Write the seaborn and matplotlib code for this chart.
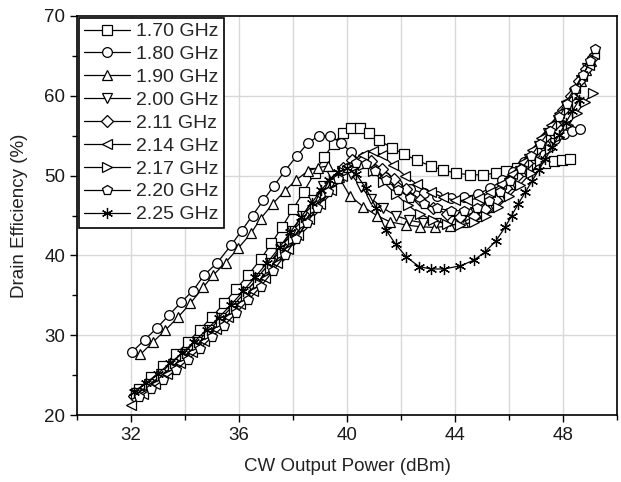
import matplotlib
matplotlib.use("Agg")
import matplotlib.pyplot as plt
import seaborn as sns
import pandas as pd
from matplotlib.ticker import MultipleLocator

sns.set_theme(style="white")
plt.rcParams['font.family'] = ['Liberation Sans', 'DejaVu Sans']

labels = ["1.70 GHz", "1.80 GHz", "1.90 GHz", "2.00 GHz", "2.11 GHz",
          "2.14 GHz", "2.17 GHz", "2.20 GHz", "2.25 GHz"]

x_170 = [32.3, 32.75, 33.2, 33.65, 34.1, 34.55, 35.0, 35.45, 35.9, 36.35, 36.8, 37.2, 37.6, 38.0, 38.4,
         38.8, 39.15, 39.5, 39.85, 40.15, 40.48, 40.8, 41.2, 41.65, 42.1, 42.6, 43.1, 43.55, 44.05, 44.55,
         45.05, 45.5, 45.9, 46.3, 46.7, 47.05, 47.35, 47.65, 47.95, 48.25]
y_170 = [23.3, 24.7, 26.1, 27.6, 29.1, 30.7, 32.3, 34.0, 35.8, 37.6, 39.5, 41.5, 43.6, 45.8, 48.0,
         50.3, 52.3, 54.0, 55.3, 56.0, 56.0, 55.4, 54.4, 53.5, 52.7, 51.9, 51.2, 50.7, 50.3, 50.1,
         50.1, 50.3, 50.6, 50.9, 51.2, 51.4, 51.6, 51.8, 52.0, 52.1]

x_180 = [32.04, 32.5, 32.96, 33.4, 33.85, 34.3, 34.7, 35.2, 35.7, 36.1, 36.5, 36.9, 37.3, 37.7, 38.15,
         38.56, 38.96, 39.37, 39.78, 40.15, 40.55, 40.95, 41.4, 41.85, 42.35, 42.85, 43.35, 43.85, 44.35,
         44.85, 45.3, 45.75, 46.15, 46.55, 46.95, 47.35, 47.7, 48.05, 48.35, 48.63]
y_180 = [27.9, 29.4, 30.9, 32.5, 34.1, 35.6, 37.5, 39.1, 41.25, 43.1, 45.0, 46.9, 48.75, 50.6, 52.5,
         54.1, 55.0, 55.0, 54.1, 52.9, 51.7, 50.7, 49.8, 49.0, 48.3, 47.8, 47.4, 47.2, 47.3,
         47.7, 48.4, 49.4, 50.5, 51.7, 52.8, 53.8, 54.6, 55.2, 55.6, 55.8]

x_190 = [32.35, 32.8, 33.26, 33.74, 34.2, 34.67, 35.04, 35.5, 35.97, 36.44, 36.8, 37.26, 37.7, 38.1,
         38.56, 38.93, 39.3, 39.7, 40.1, 40.6, 41.1, 41.6, 42.2, 42.7, 43.25, 43.8, 44.3, 44.8, 45.25,
         45.65, 46.05, 46.45, 46.8, 47.15, 47.5, 47.8, 48.1, 48.4, 48.65, 48.85, 49.05]
y_190 = [27.6, 29.1, 30.6, 32.25, 34.0, 36.0, 37.5, 39.1, 40.9, 42.75, 44.6, 46.5, 48.1, 49.4,
         50.6, 51.0, 51.2, 49.8, 47.5, 46.1, 45.0, 44.2, 43.8, 43.6, 43.5, 43.7, 44.2, 45.0, 46.1,
         47.5, 49.0, 50.6, 52.2, 53.8, 55.4, 57.0, 58.6, 60.2, 61.8, 63.2, 64.4]

x_200 = [32.2, 32.65, 33.1, 33.55, 34.0, 34.45, 34.9, 35.35, 35.8, 36.25, 36.7, 37.15, 37.55, 37.95,
         38.35, 38.75, 39.1, 39.45, 39.8, 40.15, 40.5, 40.9, 41.35, 41.8, 42.3, 42.8, 43.3, 43.8, 44.3,
         44.75, 45.2, 45.6, 46.0, 46.4, 46.75, 47.1, 47.45, 47.8, 48.1, 48.4, 48.65, 48.9]
y_200 = [22.8, 23.9, 25.1, 26.4, 27.7, 29.1, 30.6, 32.1, 33.7, 35.4, 37.2, 39.1, 41.0, 43.0,
         45.0, 47.0, 48.7, 50.0, 50.6, 50.2, 48.6, 47.1, 45.9, 45.0, 44.4, 44.1, 44.1, 44.3, 44.8,
         45.5, 46.5, 47.7, 49.1, 50.6, 52.1, 53.7, 55.3, 57.0, 58.7, 60.4, 62.0, 63.5]

x_211 = [32.1, 32.55, 33.0, 33.45, 33.9, 34.35, 34.8, 35.25, 35.7, 36.15, 36.6, 37.05, 37.5, 37.9,
         38.3, 38.7, 39.1, 39.5, 39.85, 40.2, 40.55, 40.9, 41.3, 41.75, 42.2, 42.7, 43.2, 43.7, 44.2,
         44.7, 45.1, 45.5, 45.9, 46.3, 46.65, 47.0, 47.35, 47.7, 48.0, 48.3, 48.6, 48.85, 49.1]
y_211 = [22.4, 23.5, 24.6, 25.8, 27.1, 28.4, 29.8, 31.3, 32.8, 34.4, 36.1, 37.9, 39.8, 41.7,
         43.6, 45.6, 47.6, 49.5, 50.9, 51.9, 52.2, 51.8, 50.8, 49.6, 48.3, 47.0, 46.0, 45.2, 44.8,
         45.0, 45.8, 47.0, 48.4, 50.0, 51.6, 53.2, 54.8, 56.5, 58.2, 60.0, 61.8, 63.4, 64.8]

x_214 = [32.0, 32.45, 32.9, 33.35, 33.8, 34.25, 34.7, 35.15, 35.6, 36.05, 36.5, 36.95, 37.4, 37.8,
         38.2, 38.6, 39.0, 39.4, 39.8, 40.2, 40.6, 40.95, 41.3, 41.7, 42.15, 42.6, 43.1, 43.55, 44.0,
         44.45, 44.9, 45.3, 45.7, 46.1, 46.5, 46.85, 47.2, 47.55, 47.85, 48.15, 48.45, 48.7, 48.95, 49.15]
y_214 = [21.2, 22.6, 23.9, 25.2, 26.5, 27.9, 29.3, 30.8, 32.3, 33.9, 35.5, 37.2, 39.0, 40.8,
         42.6, 44.5, 46.4, 48.2, 49.9, 51.4, 52.6, 53.1, 52.6, 51.3, 50.0, 48.9, 47.9, 47.3, 46.9,
         46.9, 47.2, 47.9, 48.9, 50.2, 51.7, 53.2, 54.7, 56.3, 57.8, 59.4, 61.0, 62.5, 63.9, 65.2]

x_217 = [32.2, 32.65, 33.1, 33.55, 34.0, 34.45, 34.9, 35.35, 35.8, 36.25, 36.7, 37.15, 37.6, 38.0,
         38.4, 38.8, 39.2, 39.55, 39.9, 40.25, 40.6, 40.95, 41.35, 41.8, 42.25, 42.7, 43.2, 43.7, 44.2,
         44.7, 45.15, 45.6, 46.0, 46.4, 46.8, 47.15, 47.5, 47.85, 48.2, 48.5, 48.8, 49.1]
y_217 = [22.6, 23.7, 24.9, 26.1, 27.4, 28.8, 30.2, 31.7, 33.3, 34.9, 36.6, 38.4, 40.3, 42.1,
         44.0, 45.9, 47.7, 49.2, 50.4, 51.1, 51.3, 50.6, 49.2, 47.7, 46.3, 45.2, 44.4, 43.9, 43.8,
         44.2, 45.0, 46.1, 47.4, 48.8, 50.3, 51.8, 53.3, 54.8, 56.3, 57.8, 59.2, 60.4]

x_220 = [32.3, 32.75, 33.2, 33.65, 34.1, 34.55, 35.0, 35.45, 35.9, 36.35, 36.8, 37.25, 37.7, 38.1,
         38.5, 38.9, 39.3, 39.65, 40.0, 40.35, 40.7, 41.05, 41.45, 41.9, 42.35, 42.85, 43.35, 43.85, 44.35,
         44.8, 45.25, 45.65, 46.05, 46.45, 46.8, 47.15, 47.5, 47.85, 48.15, 48.45, 48.75, 49.0, 49.2]
y_220 = [22.2, 23.3, 24.4, 25.6, 26.9, 28.3, 29.8, 31.2, 32.8, 34.4, 36.1, 38.0, 40.0, 42.0,
         44.0, 46.0, 47.9, 49.6, 50.9, 51.6, 51.5, 50.6, 49.4, 48.2, 47.2, 46.4, 45.9, 45.6, 45.6,
         46.0, 46.8, 47.9, 49.3, 50.8, 52.4, 54.0, 55.6, 57.3, 59.0, 60.8, 62.6, 64.3, 65.9]

x_225 = [32.1, 32.55, 33.0, 33.45, 33.9, 34.35, 34.8, 35.25, 35.7, 36.15, 36.6, 37.05, 37.5, 37.9,
         38.3, 38.7, 39.05, 39.35, 39.65, 40.0, 40.33, 40.7, 41.07, 41.44, 41.8, 42.2, 42.67, 43.1,
         43.6, 44.2, 44.7, 45.1, 45.5, 45.85, 46.1, 46.35, 46.6, 46.85, 47.1, 47.35, 47.6, 47.85,
         48.1, 48.35, 48.6]
y_225 = [22.9, 24.0, 25.2, 26.5, 27.8, 29.2, 30.7, 32.2, 33.8, 35.5, 37.3, 39.1, 41.0, 42.9,
         44.8, 46.6, 48.2, 49.4, 50.4, 50.9, 50.25, 48.4, 46.0, 43.2, 41.4, 39.8, 38.6, 38.3,
         38.3, 38.7, 39.4, 40.4, 41.75, 43.5, 45.0, 46.5, 47.9, 49.3, 50.7, 52.1, 53.6, 55.1,
         56.6, 58.1, 59.5]

series_x = [x_170, x_180, x_190, x_200, x_211, x_214, x_217, x_220, x_225]
series_y = [y_170, y_180, y_190, y_200, y_211, y_214, y_217, y_220, y_225]
markers = ["s", "o", "^", "v", "D", "<", ">", "p", (6, 2, 0)]
msizes = [6.5, 7, 7, 7, 6, 7, 7, 7.5, 8]

fig = plt.figure(figsize=(6.21, 4.82), dpi=100)
ax = fig.add_axes([77/621, 1 - 415/482, (617-77)/621, (415-16)/482])

for lab, xs, ys, mk, ms in zip(labels, series_x, series_y, markers, msizes):
    df = pd.DataFrame({"x": xs, "y": ys})
    sns.lineplot(data=df, x="x", y="y", ax=ax, color="black", linewidth=0.9,
                 marker=mk, markersize=ms, markerfacecolor="white",
                 markeredgecolor="black", markeredgewidth=0.9, label=lab,
                 sort=False, estimator=None)

ax.set_xlim(30, 50)
ax.set_ylim(20, 70)
ax.yaxis.set_major_locator(MultipleLocator(10))
ax.yaxis.set_minor_locator(MultipleLocator(5))
ax.set_xticks([32, 36, 40, 44, 48])
ax.set_xticks([30, 34, 38, 42, 46, 50], minor=True)

ax.grid(False)
for v in range(30, 51, 2):
    ax.axvline(v, color="#d8d8d8", lw=1.0, zorder=0)
for v in range(30, 70, 10):
    ax.axhline(v, color="#d8d8d8", lw=1.0, zorder=0)

ax.tick_params(axis="both", which="major", direction="out", length=5, width=1.0,
               colors="black", labelsize=13.5, labelcolor="#1a1a1a", bottom=True, left=True)
ax.tick_params(axis="both", which="minor", direction="out", length=3.5, width=1.0,
               colors="black", bottom=True, left=True)
for sp in ax.spines.values():
    sp.set_color("black")
    sp.set_linewidth(1.2)

ax.set_xlabel("CW Output Power (dBm)", fontsize=13.5, color="#222222", labelpad=10)
ax.set_ylabel("Drain Efficiency (%)", fontsize=13.5, color="#222222", labelpad=12)

leg = ax.legend(loc="upper left", bbox_to_anchor=(0.0, 1.0), fontsize=14,
                frameon=True, fancybox=False, framealpha=1, edgecolor="black",
                borderaxespad=0.1, handlelength=2.4, handletextpad=0.3,
                labelspacing=0.27, borderpad=0.25)
leg.get_frame().set_linewidth(1.2)

fig.savefig("out.png", dpi=100)
